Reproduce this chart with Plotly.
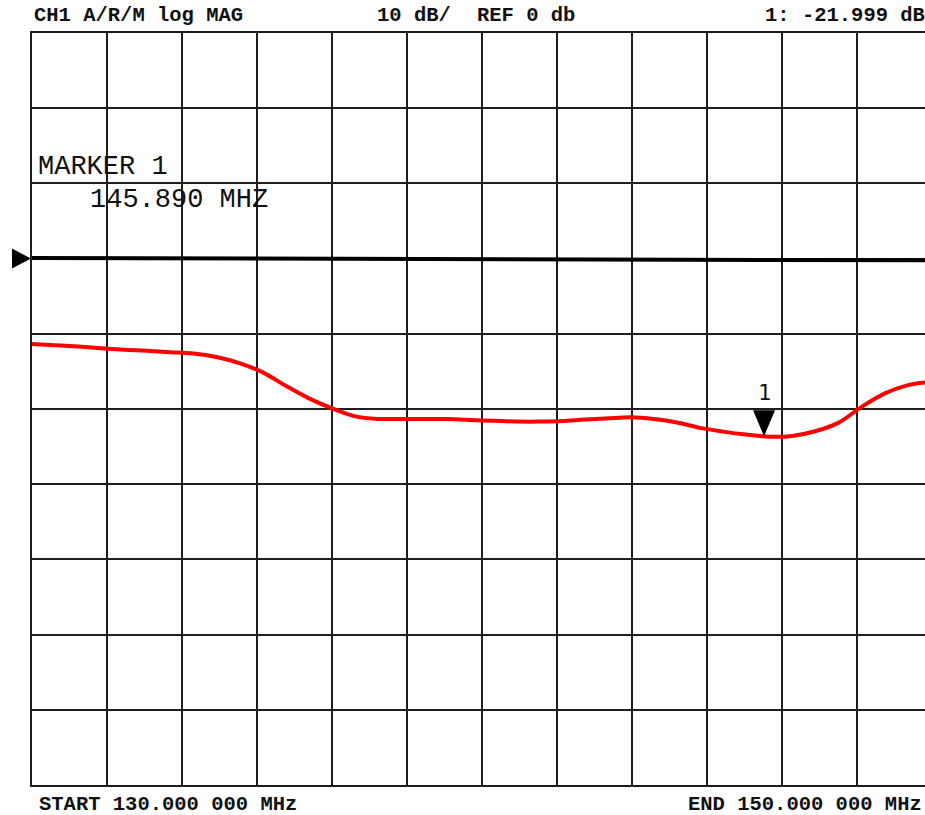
import plotly.graph_objects as go

# Sweep settings
start_mhz = 130.0
stop_mhz = 150.0
ref_db = 0.0

# Measured transmission (red trace), frequency in MHz and magnitude in dB
freq_mhz = [130.0, 130.5, 131.0, 131.5, 132.0, 132.5, 133.0, 133.5, 134.0, 134.5,
            135.0, 135.5, 136.0, 136.5, 137.0, 137.5, 138.0, 138.5, 139.0, 139.5,
            140.0, 140.5, 141.0, 141.5, 142.0, 142.5, 143.0, 143.5, 144.0, 144.5,
            145.0, 145.5, 146.0, 146.5, 147.0, 147.5, 148.0, 148.5, 149.0, 149.5,
            150.0]
mag_db = [-10.56, -10.73, -10.89, -11.09, -11.27, -11.42, -11.58, -11.76, -12.19, -12.94,
          -14.05, -15.72, -17.27, -18.51, -19.50, -19.85, -19.85, -19.85, -19.87, -19.97,
          -20.09, -20.17, -20.18, -20.12, -19.93, -19.78, -19.65, -19.87, -20.30, -20.96,
          -21.42, -21.79, -22.05, -21.95, -21.38, -20.34, -18.39, -16.71, -15.69, -15.29,
          -15.20]

# Reference (thru) trace, black
ref_freq_mhz = [130.0, 140.0, 150.0]
ref_trace_db = [0.08, -0.05, -0.22]

# Marker 1
marker_freq = 145.890
marker_db = -21.999

# Display geometry
W, H = 925, 815
M_LEFT, M_TOP, M_BOTTOM = 32, 33, 30
PLOT_W = W - M_LEFT
PLOT_H = H - M_TOP - M_BOTTOM
PX_PER_MHZ = 46.07
PX_PER_DB = 8.077
DIV_PX_X = 75.0
N_DIV_Y = 10
REF_DIV = 3  # reference line sits 3 divisions below the top

div_db = PLOT_H / N_DIV_Y / PX_PER_DB
y_max = ref_db + REF_DIV * div_db
y_min = ref_db - (N_DIV_Y - REF_DIV) * div_db
x_max = start_mhz + PLOT_W / PX_PER_MHZ

GRID = "#1e1e1e"
MONO = "Liberation Mono"


def fmt_freq(v):
    s = f"{v:.6f}"
    return s[:-3] + " " + s[-3:]


fig = go.Figure()

fig.add_trace(go.Scatter(
    x=ref_freq_mhz, y=ref_trace_db, mode="lines",
    line=dict(color="#000000", width=4), hoverinfo="skip", showlegend=False))

fig.add_trace(go.Scatter(
    x=freq_mhz, y=mag_db, mode="lines",
    line=dict(color="#ff0000", width=4, shape="spline", smoothing=1.0),
    showlegend=False))

# Marker 1 triangle (tip on the trace)
tri_half_w = 11 / PX_PER_MHZ
tri_h = 26 / PX_PER_DB
fig.add_shape(
    type="path", xref="x", yref="y",
    path=(f"M {marker_freq - tri_half_w},{marker_db + tri_h} "
          f"L {marker_freq + tri_half_w},{marker_db + tri_h} "
          f"L {marker_freq},{marker_db} Z"),
    fillcolor="#000000", line=dict(width=0))

# Reference position arrow on the left edge
arr_x0 = -20 / PLOT_W
arr_x1 = -1 / PLOT_W
arr_h = 10 / PX_PER_DB
fig.add_shape(
    type="path", xref="paper", yref="y",
    path=(f"M {arr_x0},{ref_db + arr_h} L {arr_x1},{ref_db} "
          f"L {arr_x0},{ref_db - arr_h} Z"),
    fillcolor="#000000", line=dict(width=0))

bold = dict(family=MONO, size=20.5, color="#111111", weight="bold")
anns = [
    dict(text="CH1 A/R/M log MAG", x=0, y=1, xanchor="left", yanchor="middle",
         xshift=0, yshift=18, font=bold),
    dict(text="10 dB/", x=(375 - M_LEFT) / PLOT_W, y=1, xanchor="left",
         yanchor="middle", yshift=18, font=bold),
    dict(text=f"REF {ref_db:.0f} db", x=(475 - M_LEFT) / PLOT_W, y=1,
         xanchor="left", yanchor="middle", yshift=18, font=bold),
    dict(text=f"1: {marker_db:.3f} dB", x=1, y=1, xanchor="right",
         yanchor="middle", xshift=2, yshift=18, font=bold),
    dict(text=f"START {fmt_freq(start_mhz)} MHz", x=0, y=0, xanchor="left",
         yanchor="middle", xshift=5, yshift=-19, font=bold),
    dict(text=f"END {fmt_freq(stop_mhz)} MHz", x=1, y=0, xanchor="right",
         yanchor="middle", xshift=-1, yshift=-19, font=bold),
    dict(text="MARKER 1", x=0, y=1, xanchor="left", yanchor="middle",
         xshift=4, yshift=-(167 - M_TOP),
         font=dict(family=MONO, size=27, color="#111111")),
    dict(text=f"{marker_freq:.3f} MHZ", x=0, y=1, xanchor="left", yanchor="middle",
         xshift=56, yshift=-(200 - M_TOP),
         font=dict(family=MONO, size=27, color="#111111")),
]
for a in anns:
    a.update(xref="paper", yref="paper", showarrow=False)
    fig.add_annotation(**a)

fig.add_annotation(
    text="1", x=marker_freq, y=marker_db, xref="x", yref="y",
    showarrow=False, yanchor="middle", yshift=44,
    font=dict(family="DejaVu Sans Mono", size=22, color="#111111"))

fig.update_layout(
    width=W, height=H,
    margin=dict(l=M_LEFT, r=0, t=M_TOP, b=M_BOTTOM, pad=0),
    paper_bgcolor="white", plot_bgcolor="white",
    xaxis=dict(range=[start_mhz, x_max], tick0=start_mhz,
               dtick=DIV_PX_X / PX_PER_MHZ, showgrid=True, gridcolor=GRID,
               gridwidth=1.6, zeroline=False, showticklabels=False, ticks="",
               showline=True, linecolor=GRID, linewidth=2, mirror=True),
    yaxis=dict(range=[y_min, y_max], tick0=ref_db, dtick=div_db,
               showgrid=True, gridcolor=GRID, gridwidth=1.6, zeroline=False,
               showticklabels=False, ticks="", showline=True, linecolor=GRID,
               linewidth=2, mirror=False),
)

fig.write_html("out.html")
